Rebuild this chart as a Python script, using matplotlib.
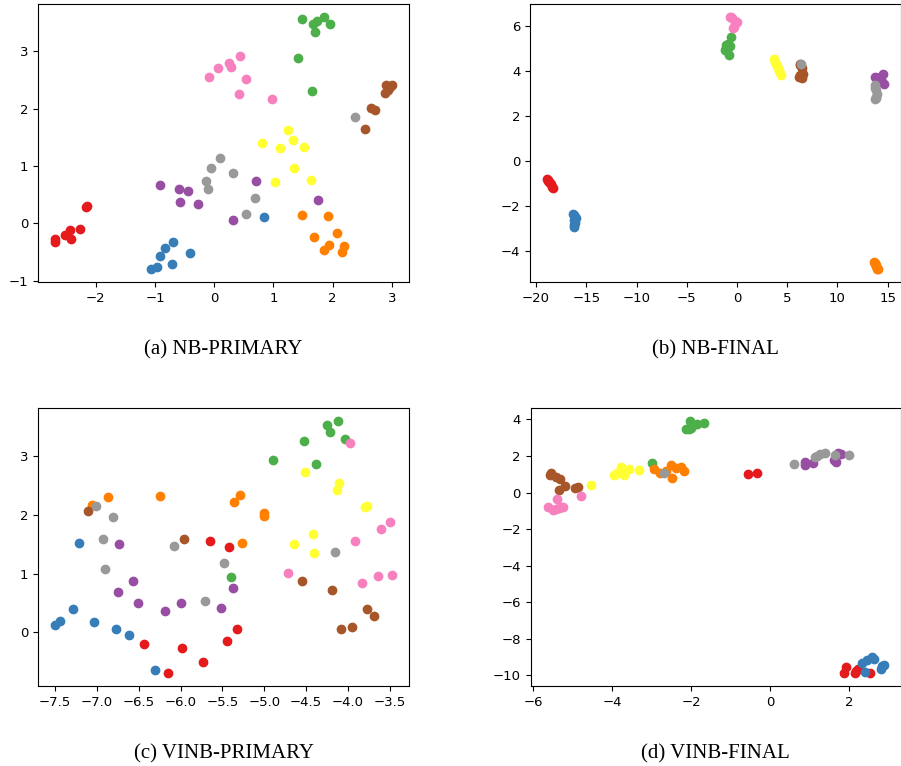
import matplotlib.pyplot as plt

# Set1 colours, one per class
colors = ['#e41a1c', '#377eb8', '#4daf4a', '#984ea3', '#ff7f00',
          '#ffff33', '#a65628', '#f781bf', '#999999']

captions = ['(a) NB-PRIMARY', '(b) NB-FINAL', '(c) VINB-PRIMARY', '(d) VINB-FINAL']

# (a) NB-PRIMARY, one list per class
a_x = [[-2.15, -2.27, -2.44, -2.52, -2.42, -2.69, -2.69, -2.16],
       [-1.06, -0.96, -0.91, -0.83, -0.69, -0.72, -0.40, 0.85],
       [1.48, 1.67, 1.74, 1.86, 1.96, 1.70, 1.42, 1.66],
       [-0.91, -0.60, -0.44, -0.57, -0.27, 0.70, 1.76, 0.31],
       [1.49, 1.92, 2.07, 1.69, 1.94, 1.85, 2.19, 2.16],
       [1.24, 0.80, 1.12, 1.33, 1.52, 1.35, 1.02, 1.63],
       [2.90, 3.01, 2.97, 2.88, 2.65, 2.72, 2.55, 2.93],
       [-0.08, 0.07, 0.25, 0.28, 0.43, 0.54, 0.42, 0.98],
       [2.38, 0.10, -0.06, 0.32, -0.14, -0.10, 0.69, 0.53]]
a_y = [[0.31, -0.10, -0.12, -0.20, -0.28, -0.28, -0.32, 0.29],
       [-0.80, -0.76, -0.57, -0.42, -0.33, -0.71, -0.51, 0.11],
       [3.55, 3.47, 3.53, 3.60, 3.48, 3.34, 2.88, 2.31],
       [0.66, 0.59, 0.57, 0.38, 0.34, 0.73, 0.40, 0.06],
       [0.15, 0.12, -0.17, -0.24, -0.37, -0.47, -0.40, -0.50],
       [1.63, 1.40, 1.31, 1.45, 1.33, 0.97, 0.72, 0.76],
       [2.41, 2.41, 2.38, 2.27, 2.01, 1.97, 1.65, 2.33],
       [2.55, 2.70, 2.80, 2.72, 2.91, 2.51, 2.25, 2.17],
       [1.85, 1.13, 0.97, 0.88, 0.73, 0.59, 0.45, 0.17]]

# (b) NB-FINAL
b_x = [[-18.9, -18.85, -18.8, -18.7, -18.6, -18.5, -18.45, -18.3],
       [-16.3, -16.2, -16.1, -16.0, -16.2, -16.1, -16.2, -16.2],
       [-0.6, -0.85, -1.1, -0.7, -1.2, -1.0, -0.8, -1.05],
       [13.75, 13.95, 14.1, 14.3, 14.5, 14.45, 14.6, 14.2],
       [13.65, 13.7, 13.75, 13.8, 13.85, 13.9, 13.95, 14.0],
       [3.7, 3.75, 3.85, 3.95, 4.05, 4.15, 4.25, 4.35],
       [6.3, 6.45, 6.3, 6.5, 6.2, 6.55, 6.25, 6.4],
       [-0.72, -0.5, 0.0, -0.33, -0.4, -0.2, -0.62, -0.15],
       [6.4, 13.75, 13.75, 13.8, 13.9, 13.85, 13.75, 13.8]]
b_y = [[-0.8, -0.85, -0.9, -0.95, -1.0, -1.05, -1.15, -1.2],
       [-2.35, -2.4, -2.5, -2.55, -2.65, -2.75, -2.85, -2.97],
       [5.5, 5.2, 5.15, 5.1, 4.9, 4.85, 4.7, 5.0],
       [3.7, 3.68, 3.6, 3.6, 3.85, 3.5, 3.42, 3.7],
       [-4.5, -4.55, -4.6, -4.65, -4.7, -4.75, -4.8, -4.83],
       [4.5, 4.4, 4.3, 4.2, 4.1, 4.0, 3.9, 3.8],
       [4.3, 4.1, 3.8, 3.66, 3.7, 3.85, 4.25, 4.2],
       [6.4, 6.33, 6.18, 5.96, 5.88, 6.22, 6.37, 6.1],
       [4.3, 3.35, 3.25, 3.15, 2.95, 2.85, 2.72, 2.8]]

# (c) VINB-PRIMARY
c_x = [[-6.44, -6.15, -5.98, -5.73, -5.65, -5.42, -5.45, -5.33],
       [-7.5, -7.44, -7.28, -7.21, -7.03, -6.77, -6.61, -6.30],
       [-4.12, -4.25, -4.21, -4.03, -4.52, -4.38, -4.90, -5.40],
       [-6.74, -6.57, -6.75, -6.51, -6.19, -6.0, -5.52, -5.37],
       [-7.06, -6.87, -6.24, -5.29, -5.36, -5.0, -5.0, -5.26],
       [-4.51, -4.11, -4.13, -3.80, -3.77, -4.42, -4.65, -4.41],
       [-7.11, -5.96, -4.55, -4.19, -3.77, -3.69, -4.08, -3.95],
       [-3.98, -3.50, -3.61, -3.92, -4.72, -3.83, -3.64, -3.47],
       [-7.01, -6.81, -6.92, -6.08, -6.90, -5.48, -5.71, -4.15]]
c_y = [[-0.20, -0.70, -0.27, -0.51, 1.56, 1.46, -0.15, 0.06],
       [0.12, 0.19, 0.40, 1.52, 0.17, 0.06, -0.05, -0.64],
       [3.61, 3.53, 3.41, 3.30, 3.26, 2.87, 2.94, 0.95],
       [1.50, 0.87, 0.68, 0.50, 0.36, 0.50, 0.42, 0.76],
       [2.17, 2.30, 2.32, 2.34, 2.23, 2.03, 1.99, 1.53],
       [2.73, 2.54, 2.43, 2.13, 2.16, 1.68, 1.50, 1.36],
       [2.07, 1.59, 0.87, 0.72, 0.40, 0.28, 0.06, 0.09],
       [3.23, 1.88, 1.76, 1.55, 1.02, 0.85, 0.96, 0.97],
       [2.15, 1.96, 1.60, 1.48, 1.08, 1.18, 0.54, 1.37]]

# (d) VINB-FINAL
d_x = [[-0.56, -0.33, 1.86, 1.92, 2.17, 2.15, 2.21, 2.52],
       [2.32, 2.44, 2.57, 2.63, 2.40, 2.83, 2.88, 2.79],
       [-2.02, -1.95, -1.86, -1.68, -2.06, -2.12, -2.0, -2.99],
       [0.88, 0.89, 1.08, 1.63, 1.67, 1.71, 1.79, 1.6],
       [-2.94, -2.78, -2.5, -2.38, -2.26, -2.19, -2.49, -2.64],
       [-4.54, -3.96, -3.78, -3.79, -3.69, -3.56, -3.31, -3.88],
       [-5.53, -5.56, -5.42, -5.31, -5.18, -5.33, -4.93, -4.86],
       [-5.63, -5.5, -5.42, -5.33, -5.23, -5.28, -5.39, -4.78],
       [-2.68, 0.61, 1.13, 1.25, 1.38, 1.63, 1.98, 1.19]]
d_y = [[1.02, 1.09, -9.89, -9.53, -9.76, -9.89, -9.64, -9.85],
       [-9.31, -9.16, -8.98, -9.09, -9.80, -9.49, -9.44, -9.64],
       [3.93, 3.7, 3.75, 3.82, 3.45, 3.45, 3.55, 1.64],
       [1.67, 1.51, 1.6, 1.82, 1.67, 2.18, 2.11, 1.8],
       [1.27, 1.09, 1.49, 1.33, 1.38, 1.18, 0.8, 1.2],
       [0.4, 0.96, 1.42, 1.15, 0.96, 1.27, 1.24, 1.09],
       [1.09, 0.96, 0.84, 0.73, 0.36, 0.15, 0.24, 0.29],
       [-0.8, -0.98, -0.9, -0.82, -0.78, -0.8, -0.36, -0.18],
       [1.05, 1.55, 1.93, 2.11, 2.18, 2.05, 2.05, 2.02]]

panels = [(a_x, a_y), (b_x, b_y), (c_x, c_y), (d_x, d_y)]

fig = plt.figure(figsize=(9.01, 7.66), dpi=100)
positions = [[0.0422, 0.6319, 0.412, 0.3629],
             [0.5885, 0.6319, 0.411, 0.3629],
             [0.0422, 0.1044, 0.412, 0.3629],
             [0.5890, 0.1044, 0.411, 0.3629]]

for i, (xs, ys) in enumerate(panels):
    ax = fig.add_axes(positions[i])
    for k in range(len(colors)):
        ax.scatter(xs[k], ys[k], c=colors[k], s=36)
    ax.tick_params(labelsize=9.5)
    pos = positions[i]
    fig.text(pos[0] + pos[2] / 2, pos[1] - 0.088, captions[i],
             ha='center', va='center', fontsize=15, family='Liberation Serif')

fig.savefig('out.png', dpi=100)
